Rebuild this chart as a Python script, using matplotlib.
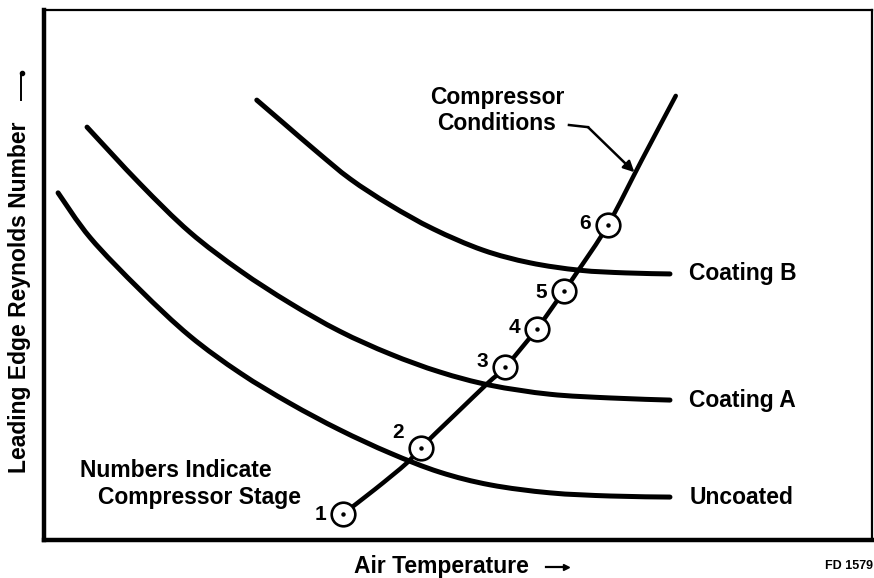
import matplotlib
matplotlib.use("Agg")
import matplotlib.pyplot as plt
import numpy as np
from matplotlib.path import Path
from matplotlib.patches import PathPatch
from matplotlib.lines import Line2D

plt.rcParams['font.family'] = ['Liberation Sans', 'DejaVu Sans']

# Curves (arbitrary units, 0-100 on both axes)
uncoated_x = [1.7, 5.6, 11.6, 17.6, 23.7, 29.7, 35.7, 41.8, 47.8, 53.9, 61.1, 68.4, 75.6]
uncoated_y = [65.5, 57.0, 47.2, 38.5, 31.5, 25.8, 20.8, 16.4, 12.8, 10.4, 8.9, 8.3, 8.1]

coatA_x = [5.2, 11.6, 17.6, 23.7, 29.7, 35.7, 41.8, 47.8, 53.9, 61.1, 68.4, 75.6]
coatA_y = [77.9, 67.2, 58.1, 50.8, 44.7, 39.4, 35.1, 31.7, 29.2, 27.5, 26.8, 26.4]

coatB_x = [25.7, 28.9, 33.0, 37.0, 41.8, 47.0, 53.0, 58.7, 64.7, 70.2, 75.6]
coatB_y = [83.0, 78.7, 73.2, 68.1, 63.2, 58.7, 54.7, 52.3, 50.9, 50.4, 50.2]

comp_x = [36.1, 40.0, 43.8, 45.5, 49.6, 53.6, 55.7, 59.5, 62.8, 64.5, 68.1, 72.2, 76.3]
comp_y = [4.9, 9.6, 14.5, 17.4, 23.6, 29.6, 32.6, 39.8, 47.0, 50.8, 59.4, 71.7, 83.8]

stages = ['1', '2', '3', '4', '5', '6']
stage_x = [36.1, 45.5, 55.7, 59.5, 62.8, 68.1]
stage_y = [4.9, 17.4, 32.6, 39.8, 47.0, 59.4]

curve_labels = ['Coating B', 'Coating A', 'Uncoated']


def smooth_path(xs, ys):
    """Catmull-Rom curve through the given points, as cubic Bezier path."""
    p = np.column_stack([xs, ys]).astype(float)
    ext = np.vstack([p[0], p, p[-1]])
    verts = [p[0]]
    codes = [Path.MOVETO]
    for i in range(len(p) - 1):
        p0, p1, p2, p3 = ext[i], ext[i + 1], ext[i + 2], ext[i + 3]
        c1 = p1 + (p2 - p0) / 6.0
        c2 = p2 - (p3 - p1) / 6.0
        verts += [c1, c2, p2]
        codes += [Path.CURVE4] * 3
    return Path(verts, codes)


W, H = 874, 578
FS = 16.5
fig = plt.figure(figsize=(W / 100, H / 100), dpi=100)
ax = fig.add_axes([44 / W, 38 / H, 828 / W, 530 / H])
ax.set_xlim(0, 100)
ax.set_ylim(0, 100)
ax.set_xticks([])
ax.set_yticks([])
ax.spines['left'].set_linewidth(3.2)
ax.spines['bottom'].set_linewidth(3.2)
ax.spines['top'].set_linewidth(1.6)
ax.spines['right'].set_linewidth(1.6)

lw = 3.6
for xs, ys, w in [(uncoated_x, uncoated_y, lw), (coatA_x, coatA_y, lw),
                  (coatB_x, coatB_y, lw), (comp_x, comp_y, 3.2)]:
    ax.add_patch(PathPatch(smooth_path(xs, ys), facecolor='none',
                           edgecolor='black', lw=w, capstyle='round'))

ax.plot(stage_x, stage_y, 'o', ms=17, mfc='white', mec='black', mew=1.9, zorder=5)
ax.plot(stage_x, stage_y, 'o', ms=2.2, color='black', zorder=6)
label_offsets = {'1': (-12, 0), '2': (-12, 11), '3': (-12, 4),
                 '4': (-12, 1), '5': (-12, -1), '6': (-12, 1)}
for s, x, y in zip(stages, stage_x, stage_y):
    ax.annotate(s, (x, y), xytext=label_offsets[s], textcoords='offset points',
                ha='right', va='center', fontsize=15, fontweight='bold')

ends_y = [coatB_y[-1], coatA_y[-1], uncoated_y[-1]]
for lab, y in zip(curve_labels, ends_y):
    ax.annotate(lab, (uncoated_x[-1], y), xytext=(14, 0), textcoords='offset points',
                ha='left', va='center', fontsize=FS, fontweight='bold')

ax.text(4.3, 13.2, 'Numbers Indicate', fontsize=FS, fontweight='bold',
        ha='left', va='center')
ax.text(6.5, 8.1, 'Compressor Stage', fontsize=FS, fontweight='bold',
        ha='left', va='center')

ax.text(54.7, 81.0, 'Compressor\nConditions', fontsize=FS, fontweight='bold',
        ha='center', va='center', linespacing=1.15)
ax.annotate('', xy=(71.3, 69.4), xytext=(65.7, 77.9),
            arrowprops=dict(arrowstyle='-|>', color='black', lw=1.8,
                            mutation_scale=16, shrinkA=0, shrinkB=0))
ax.plot([63.4, 65.7], [78.3, 77.9], color='black', lw=1.8)

# Axis titles with long arrows
fig.text(441 / W, 1 - 566 / H, 'Air Temperature', fontsize=FS,
         fontweight='bold', ha='center', va='center')
fig.add_artist(Line2D([546 / W, 564 / W], [1 - 567 / H, 1 - 567 / H],
                      color='black', lw=1.6, transform=fig.transFigure))
fig.add_artist(Line2D([566 / W], [1 - 567 / H], marker='>', ms=4,
                      color='black', transform=fig.transFigure))

fig.text(20 / W, 1 - 297 / H, 'Leading Edge Reynolds Number', fontsize=FS,
         fontweight='bold', ha='center', va='center', rotation=90)
fig.add_artist(Line2D([21 / W, 21 / W], [1 - 100 / H, 1 - 74 / H],
                      color='black', lw=1.4, transform=fig.transFigure))
fig.add_artist(Line2D([22 / W], [1 - 73 / H], marker='o', ms=3,
                      color='black', transform=fig.transFigure))

fig.text(825 / W, 1 - 566 / H, 'FD 1579', fontsize=9, fontweight='bold',
         ha='left', va='center')

fig.savefig('out.png', dpi=100)
